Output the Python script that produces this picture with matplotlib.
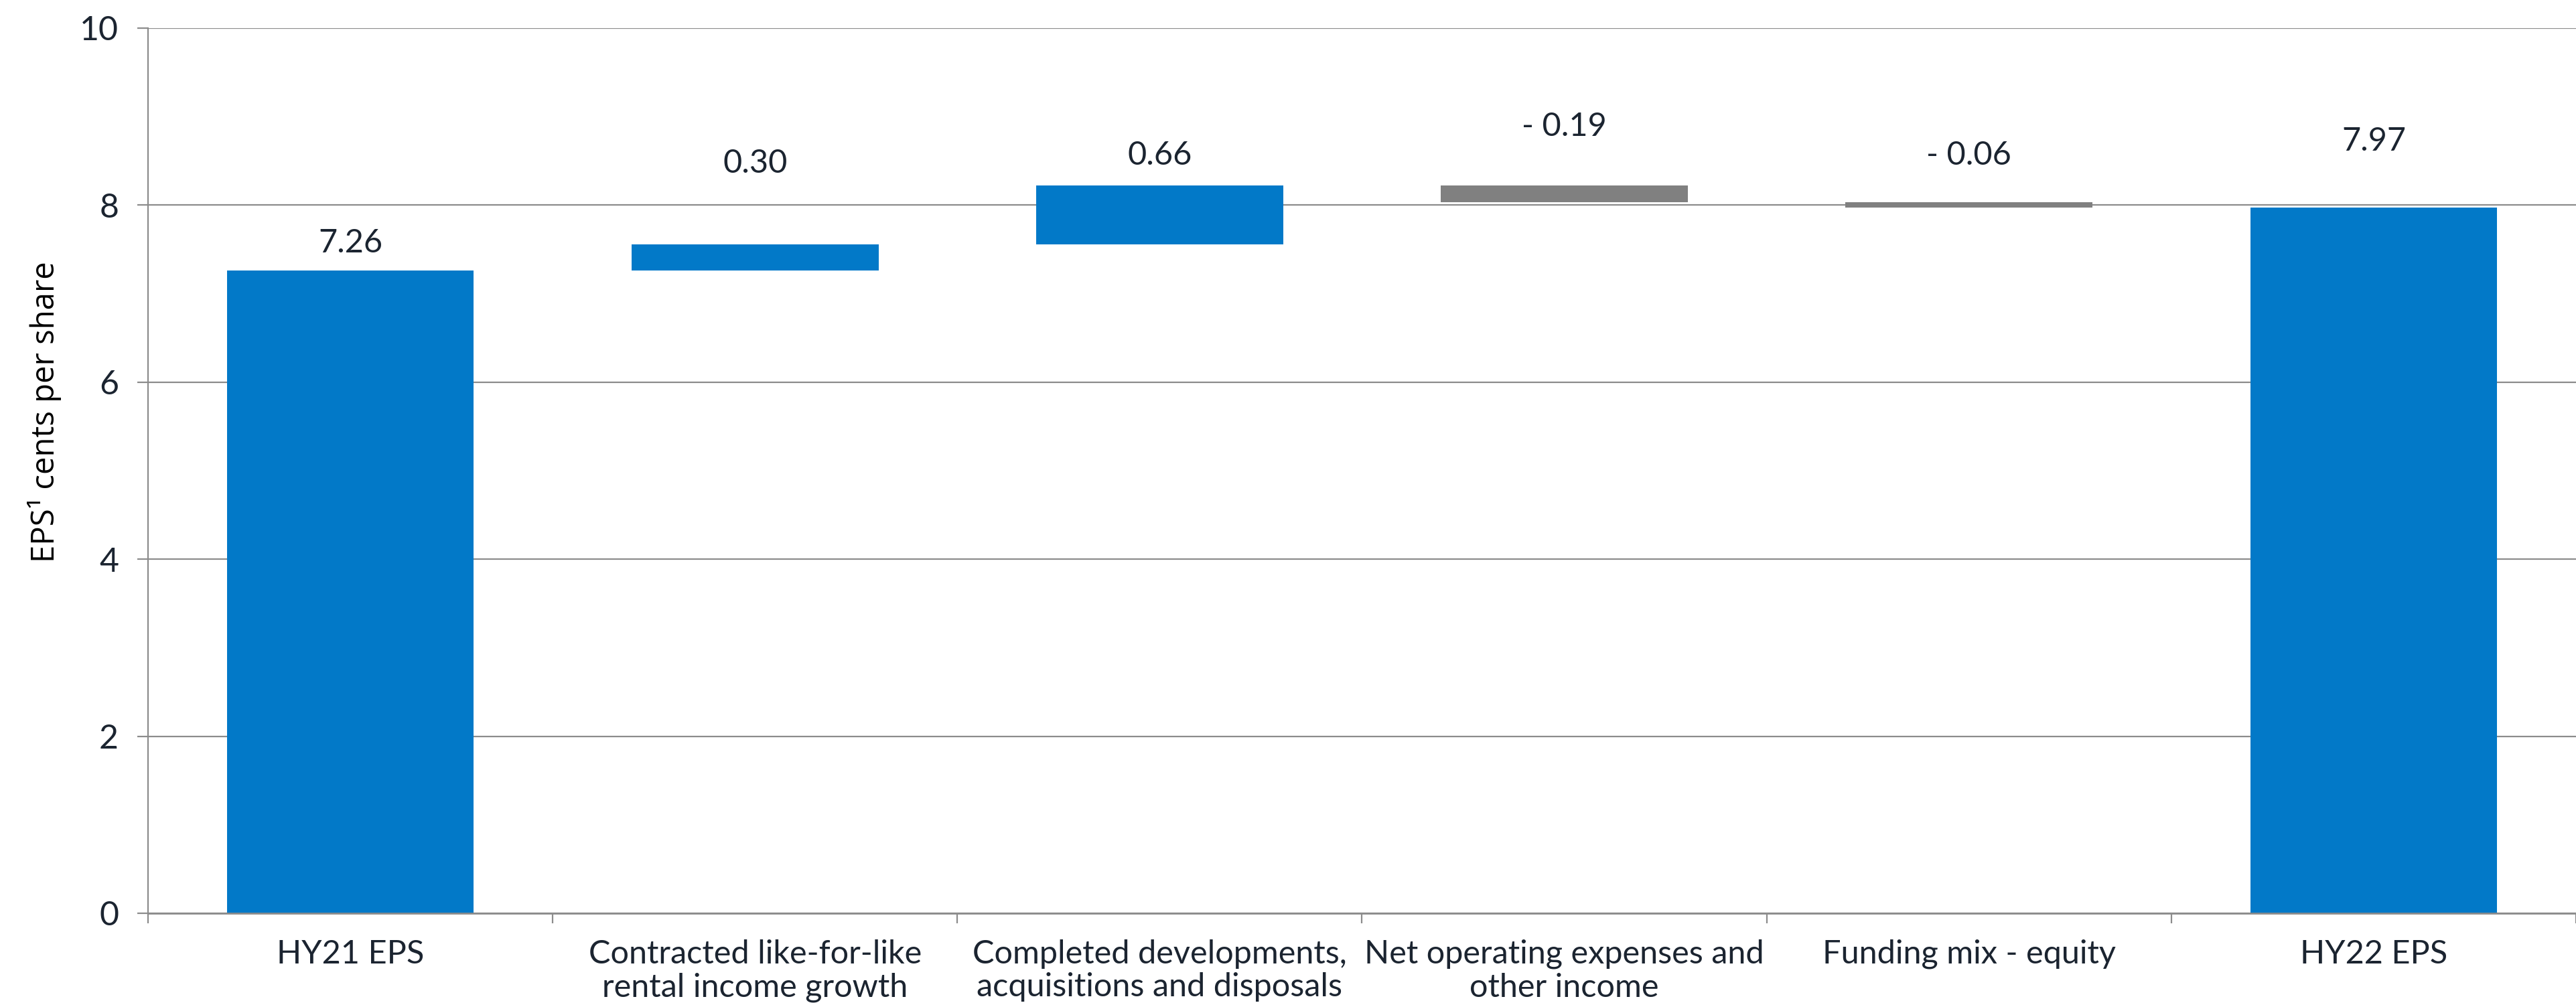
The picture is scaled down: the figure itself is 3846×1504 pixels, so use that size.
import matplotlib
matplotlib.use("Agg")
import matplotlib.pyplot as plt
import numpy as np

# ===== data =====
categories = [
    "HY21 EPS",
    "Contracted like-for-like\nrental income growth",
    "Completed developments,\nacquisitions and disposals",
    "Net operating expenses and\nother income",
    "Funding mix - equity",
    "HY22 EPS",
]
changes = [7.26, 0.30, 0.66, -0.19, -0.06, 7.97]
is_total = [True, False, False, False, False, True]
value_labels = ["7.26", "0.30", "0.66", "- 0.19", "- 0.06", "7.97"]
label_y = [7.57, 8.47, 8.56, 8.89, 8.56, 8.72]   # where the value text sits

y_ticks = [0, 2, 4, 6, 8, 10]

# ===== styles =====
blue = "#0279C8"
grey_bar = "#808080"
grid_col = "#8C8C8C"
text_col = "#1B2430"
font_main = ["Lato", "DejaVu Sans"]

# waterfall bottoms / heights
bottoms, heights, colors = [], [], []
running = 0.0
for v, tot in zip(changes, is_total):
    if tot:
        bottoms.append(0.0)
        heights.append(v)
        colors.append(blue)
        running = v
    else:
        if v >= 0:
            bottoms.append(running)
            colors.append(blue)
        else:
            bottoms.append(running + v)
            colors.append(grey_bar)
        heights.append(abs(v))
        running += v

fig = plt.figure(figsize=(19.23, 7.52), dpi=200)
ax = fig.add_axes([221 / 3846, 1 - 1364 / 1504, 1 - 221 / 3846, (1364 - 42) / 1504])

x = np.arange(len(categories))
ax.bar(x, heights, bottom=bottoms, width=0.61, color=colors, zorder=3)

for xi, txt, yy in zip(x, value_labels, label_y):
    ax.text(xi, yy, txt, ha="center", va="center", fontsize=17.5,
            color=text_col, family=font_main)

# axes (right side of the last category is cut off, as in the original)
ax.set_xlim(-0.5, 5.434)
ax.set_ylim(0, 10)
ax.set_yticks(y_ticks)
ax.set_yticklabels([str(t) for t in y_ticks], family=font_main,
                   fontsize=18, color=text_col)
ax.yaxis.grid(True, color=grid_col, linewidth=0.8, zorder=0)
ax.tick_params(axis="y", length=5.8, width=0.8, color=grid_col, pad=10)

ax.set_xticks(x)
ax.set_xticklabels(categories, family=font_main, fontsize=17.5,
                   color=text_col, linespacing=1.15)
ax.set_xticks(np.arange(-0.5, 6.0, 1.0), minor=True)
ax.tick_params(axis="x", which="major", length=0, pad=14)
ax.tick_params(axis="x", which="minor", length=5.4, width=0.8, color=grid_col)

for s in ["top", "right"]:
    ax.spines[s].set_visible(False)
ax.spines["left"].set_color(grid_col)
ax.spines["left"].set_linewidth(0.8)
ax.spines["bottom"].set_color(grid_col)
ax.spines["bottom"].set_linewidth(1.0)
ax.spines["bottom"].set_zorder(4)

fig.text(67 / 3846, 1 - 615 / 1504, "EPS¹ cents per share", rotation=90,
         ha="center", va="center", fontsize=17, color="black",
         family=["Open Sans", "DejaVu Sans"])

fig.savefig("out.png", dpi=200, facecolor="white")
